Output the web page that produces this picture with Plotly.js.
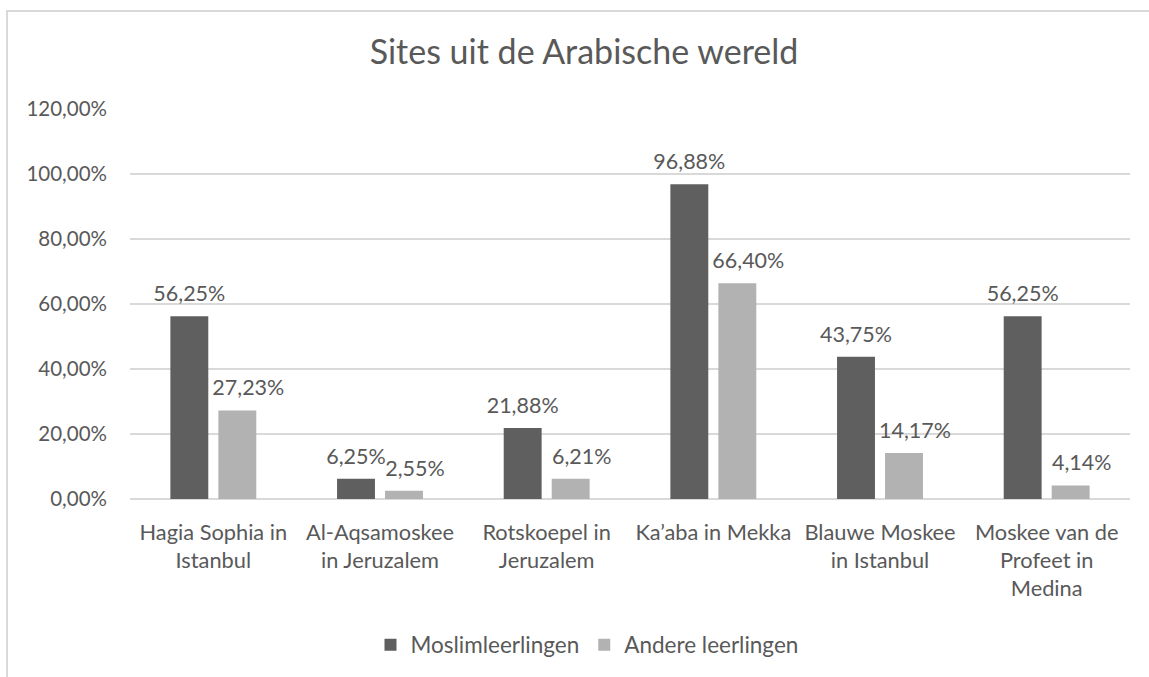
<!DOCTYPE html>
<html>
<head>
<meta charset="utf-8">
<script src="https://cdn.plot.ly/plotly-3.0.1.min.js"></script>
<style>
  html, body { margin: 0; padding: 0; background: #ffffff; overflow: hidden; }
  #wrap { position: relative; width: 1149px; height: 677px; overflow: hidden; }
  #chart { width: 1149px; height: 677px; }
  #frame { position: absolute; left: 6px; top: 10px; width: 2000px; height: 2000px;
           border: 2px solid #d9d9d9; pointer-events: none; box-sizing: border-box; }
</style>
</head>
<body>
<div id="wrap">
  <div id="chart"></div>
  <div id="frame"></div>
</div>
<script>
const categories = [
  "Hagia Sophia in<br>Istanbul",
  "Al-Aqsamoskee<br>in Jeruzalem",
  "Rotskoepel in<br>Jeruzalem",
  "Ka\u2019aba in Mekka",
  "Blauwe Moskee<br>in Istanbul",
  "Moskee van de<br>Profeet in<br>Medina"
];
const seriesNames = ["Moslimleerlingen", "Andere leerlingen"];
const moslimValues = [56.25, 6.25, 21.88, 96.88, 43.75, 56.25];
const andereValues = [27.23, 2.55, 6.21, 66.40, 14.17, 4.14];
const yTicks = [0, 20, 40, 60, 80, 100, 120];

const textColor = "#595959";
const fontFamily = "Lato, 'Open Sans', sans-serif";
const colors = ["#5f5f5f", "#b2b2b2"];
const seriesValues = [moslimValues, andereValues];
// the second series' labels sit a little right of their bars, as in the original
const labelPad = ["", "\u00a0\u00a0\u00a0\u00a0"];

function fmt(v) { return v.toFixed(2).replace(".", ",") + "%"; }

const traces = [];
seriesValues.forEach(function (vals, i) {
  traces.push({
    type: "bar", name: seriesNames[i], x: categories, y: vals,
    marker: { color: colors[i] },
    hoverinfo: "skip"
  });
});
seriesValues.forEach(function (vals, i) {
  traces.push({
    type: "scatter", mode: "markers+text", orientation: "v",
    x: categories, y: vals,
    text: vals.map(function (v) { return labelPad[i] + fmt(v); }),
    textposition: "top center", cliponaxis: false,
    marker: { size: 14, color: "rgba(0,0,0,0)" },
    textfont: { family: fontFamily, size: 21.5, color: textColor },
    showlegend: false, hoverinfo: "skip"
  });
});

const layout = {
  width: 1149, height: 677,
  paper_bgcolor: "rgba(0,0,0,0)", plot_bgcolor: "rgba(0,0,0,0)",
  separators: ",.",
  font: { family: fontFamily, size: 20, color: textColor },
  margin: { l: 130, r: 19, t: 109, b: 177 },
  title: {
    text: "Sites uit de Arabische wereld",
    font: { family: fontFamily, size: 34, color: textColor },
    x: 584 / 1149, xanchor: "center", xref: "container",
    y: 1 - 52 / 677, yanchor: "middle", yref: "container"
  },
  barmode: "group", bargap: 0.424, bargroupgap: 0.21,
  scattermode: "group", scattergap: 0.424,
  xaxis: {
    type: "category", showgrid: false, zeroline: false,
    showline: false, ticks: "", tickangle: 0,
    tickfont: { family: fontFamily, size: 21.8, color: textColor },
    ticklabelstandoff: 18, automargin: false
  },
  yaxis: {
    range: [0, 120], tickvals: yTicks,
    ticktext: yTicks.map(fmt),
    showgrid: true, gridcolor: "#d9d9d9", gridwidth: 1.5,
    zeroline: true, zerolinecolor: "#d9d9d9", zerolinewidth: 1.5,
    showline: false, ticks: "",
    tickfont: { family: fontFamily, size: 20.5, color: textColor },
    ticklabelstandoff: 22, automargin: false
  },
  showlegend: true,
  legend: {
    orientation: "h", x: 0.457, xanchor: "center", y: -0.371, yanchor: "middle",
    font: { family: fontFamily, size: 22.5, color: textColor },
    itemclick: false, itemdoubleclick: false, traceorder: "normal"
  }
};

Plotly.newPlot("chart", traces, layout, { displayModeBar: false, staticPlot: true });
</script>
</body>
</html>
